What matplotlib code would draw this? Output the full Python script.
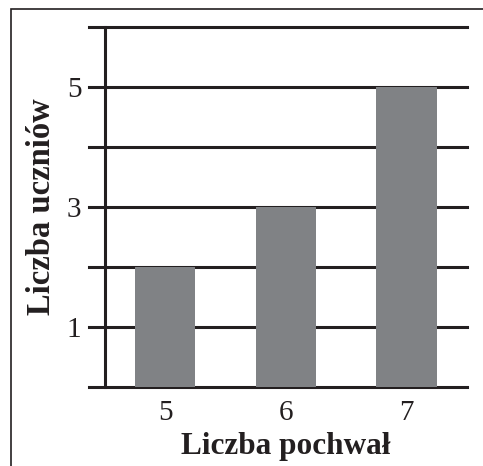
import matplotlib.pyplot as plt
import matplotlib.patches as patches

plt.rcParams['font.family'] = ['Liberation Serif', 'DejaVu Serif']

# data
pochwaly = [5, 6, 7]
uczniowie = [2, 3, 5]
y_ticks = [0, 1, 2, 3, 4, 5, 6]
y_labels = ['', '1', '', '3', '', '5', '']

ink = '#231f20'
bar_gray = '#808285'

W, H = 483, 466
fig = plt.figure(figsize=(W / 100, H / 100), dpi=100)
ax = fig.add_axes([105 / W, 1 - 387 / H, (467 - 105) / W, (387 - 27) / H])

# outer frame (cut off at right and bottom like the scan)
fig.patches.append(patches.Rectangle((11 / W, -0.1), 1.2, 1 - 9 / H + 0.1,
                                     transform=fig.transFigure, fill=False,
                                     edgecolor=ink, lw=1.2))

ax.bar(pochwaly, uczniowie, width=0.5, color=bar_gray, zorder=3)

for y in y_ticks:
    ax.axhline(y, xmin=-16 / 362, xmax=1, color=ink, lw=2.2, zorder=2, clip_on=False)

ax.set_xlim(4.5, 7.5)
ax.set_ylim(0, 6)
ax.set_xticks(pochwaly)
ax.set_xticklabels([str(p) for p in pochwaly])
ax.set_yticks(y_ticks)
ax.set_yticklabels(y_labels)
ax.tick_params(axis='x', length=0, pad=9, labelsize=21, labelcolor=ink)
ax.tick_params(axis='y', length=0, pad=17, labelsize=21, labelcolor=ink)

for s in ['top', 'right', 'bottom']:
    ax.spines[s].set_visible(False)
ax.spines['left'].set_color(ink)
ax.spines['left'].set_linewidth(2.2)
ax.spines['left'].set_zorder(4)

ax.set_xlabel('Liczba pochwał', fontsize=22.5, fontweight='bold', color=ink, labelpad=5)
ax.set_ylabel('Liczba uczniów', fontsize=23.5, fontweight='bold', color=ink, labelpad=7)

fig.savefig('out.png', dpi=100)
